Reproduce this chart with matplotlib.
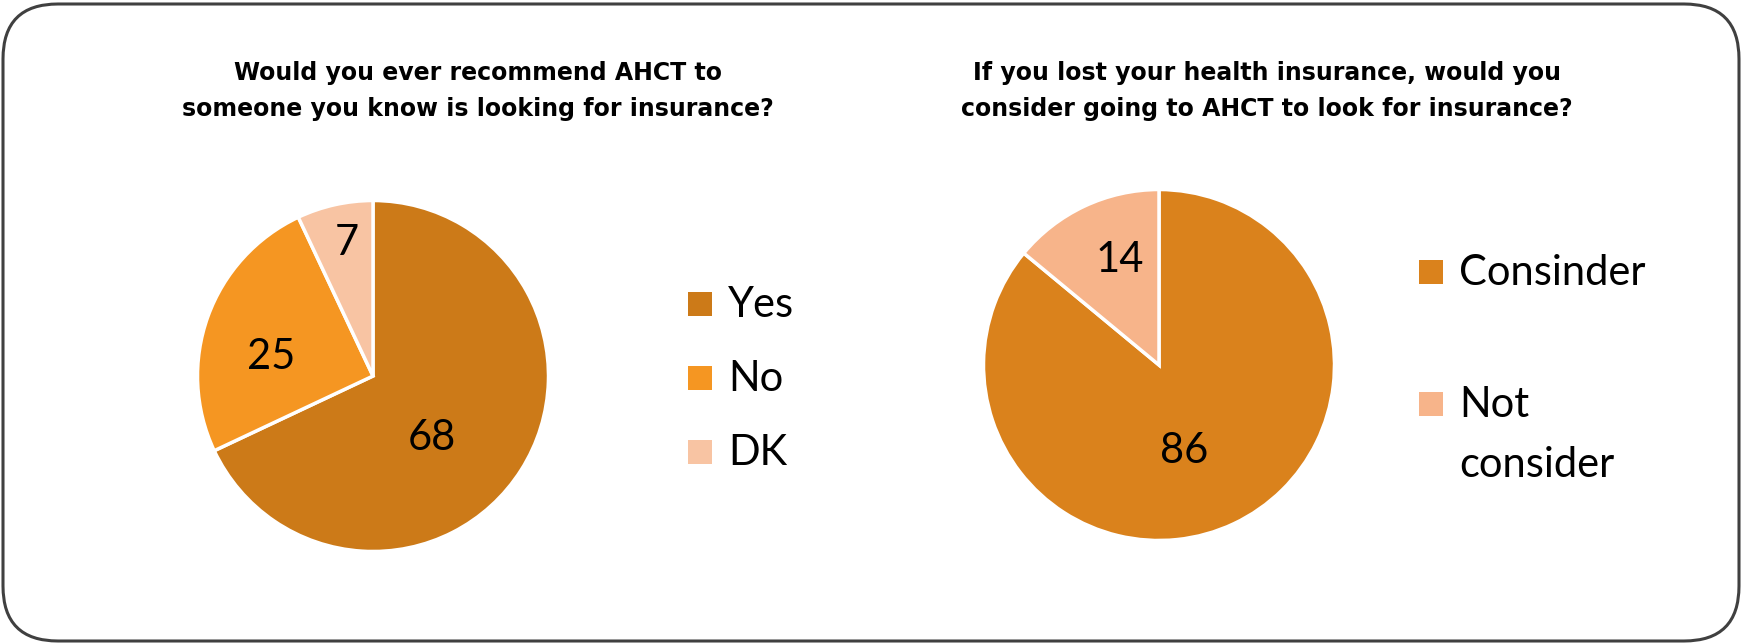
import matplotlib
matplotlib.use("Agg")
import matplotlib.pyplot as plt
import numpy as np
from matplotlib.patches import FancyBboxPatch, Rectangle

# data
recommend_labels = ["Yes", "No", "DK"]
recommend_values = [68, 25, 7]
recommend_colors = ["#CC7A18", "#F59622", "#F8C4A3"]
recommend_title = "Would you ever recommend AHCT to\nsomeone you know is looking for insurance?"

consider_labels = ["Consinder", "Not\nconsider"]
consider_values = [86, 14]
consider_colors = ["#DA821C", "#F7B48A"]
consider_title = "If you lost your health insurance, would you\nconsider going to AHCT to look for insurance?"

W, H = 1742, 644
fig = plt.figure(figsize=(W / 100, H / 100), dpi=100)

# background axes in pixel units (y from top) for the frame and legends
bg = fig.add_axes([0, 0, 1, 1])
bg.set_xlim(0, W)
bg.set_ylim(H, 0)
bg.axis("off")
frame = FancyBboxPatch((3, 4), W - 6, H - 7, boxstyle="round,pad=0,rounding_size=55",
                       fc="white", ec="#404040", lw=2.2)
bg.add_patch(frame)


def pie_axes(cx, cy, r):
    # cx, cy measured from top-left in pixels
    return fig.add_axes([(cx - r) / W, (H - cy - r) / H, 2 * r / W, 2 * r / H])


label_font = "Lato"


def draw_legend(labels, colors, x, y0, step, line_gap=60):
    # square + text, first line's baseline level with the bottom of the square
    for i, (lab, col) in enumerate(zip(labels, colors)):
        y = y0 + i * step
        bg.add_patch(Rectangle((x, y - 24), 24, 24, fc=col, ec="none"))
        for k, line in enumerate(lab.split("\n")):
            bg.text(x + 40, y + 1 + k * line_gap, line, ha="left", va="baseline",
                    fontsize=30, family=label_font)


def draw_pie(ax, values, colors, labels, title, title_x, lab_dist, lab_shift):
    wedges, texts, autotexts = ax.pie(
        values, colors=colors, startangle=90, counterclock=False,
        autopct=lambda p: f"{p:.0f}",
        wedgeprops=dict(edgecolor="white", linewidth=2.5),
        textprops=dict(fontsize=30, family=label_font, color="black"))
    # excel-like placement of the value labels
    for w, t, d, s in zip(wedges, autotexts, lab_dist, lab_shift):
        ang = np.deg2rad((w.theta1 + w.theta2) / 2 + s)
        t.set_position((d * np.cos(ang), d * np.sin(ang)))
    ax.set_xlim(-1.02, 1.02)
    ax.set_ylim(-1.02, 1.02)
    bg.text(title_x, 91, title, ha="center", va="center",
            fontsize=17, fontweight="bold", family="DejaVu Sans",
            linespacing=1.58)


ax1 = pie_axes(373, 376, 179)
draw_pie(ax1, recommend_values, recommend_colors, recommend_labels,
         recommend_title, 478, [0.49, 0.59, 0.77], [-14, 9, -1.6])
draw_legend(recommend_labels, recommend_colors, 688, 316, 74)

ax2 = pie_axes(1159, 365, 179)
draw_pie(ax2, consider_values, consider_colors, consider_labels,
         consider_title, 1267, [0.51, 0.64], [-8.6, -4.5])
draw_legend(consider_labels, consider_colors, 1419, 284, 132)

fig.savefig("out.png", dpi=100)
